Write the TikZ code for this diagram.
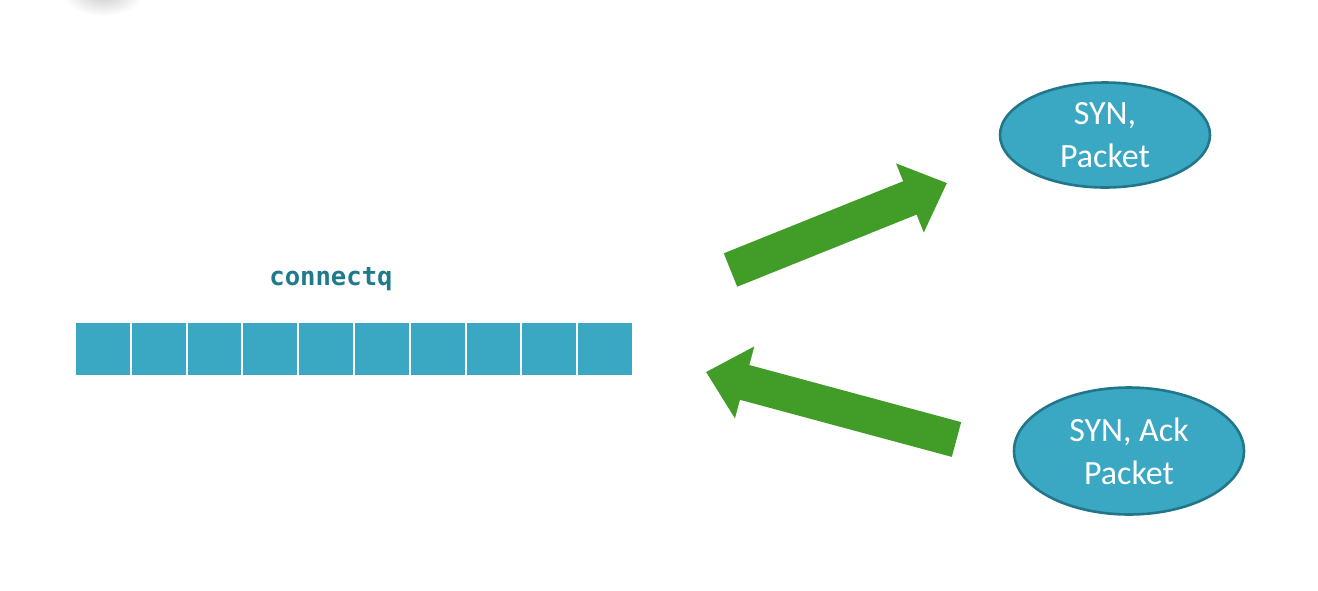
\documentclass[tikz,border=0pt]{standalone}
\usepackage{fontspec}
\setmainfont{Carlito}
\setmonofont{DejaVu Sans Mono}
\usepackage{tikz}
\usetikzlibrary{arrows.meta, shapes.geometric}

\definecolor{qblue}{RGB}{58,168,195}
\definecolor{qedge}{RGB}{34,118,138}
\definecolor{qtext}{RGB}{31,122,140}
\definecolor{pushgreen}{RGB}{65,157,40}

\tikzset{
    packet/.style = {ellipse, draw = qedge, line width = 1.3pt, fill = qblue, text = white,
                     inner sep = 0pt, align = center,
                     font = \fontsize{17}{21.5}\selectfont},
    bigarrow/.style = {draw = pushgreen, line width = 18pt,
                       -{Triangle[length = 20pt, width = 36pt]}},
    cell/.style = {fill = qblue, draw = white, line width = 1pt}
}

\begin{document}
\begin{tikzpicture}[x = 0.5pt, y = -0.5pt]
    \useasboundingbox (0, 0) rectangle (1318, 590);

    % faint slide shadow at the top edge
    \shade [inner color = black!20, outer color = white] (103, -6) ellipse (40 and 22);

    \begin{scope}[xshift = 75*0.5pt, yshift = -322*0.5pt]
        \foreach \i in {0,...,9}
            \draw [cell] (\i*55.8, 0) rectangle ++(55.8, 54);
    \end{scope}
    \node [anchor = base, text = qtext, font = \ttfamily\bfseries\fontsize{12.8}{15}\selectfont]
        (qlabel) at (331, 285) {connectq};

    \node [packet, minimum width = 105pt, minimum height = 52.5pt]
        (syn) at (1105, 135) {SYN,\\Packet};
    \node [packet, minimum width = 115pt, minimum height = 63.5pt]
        (synack) at (1129, 451) {SYN, Ack\\Packet};

    \coordinate (outtail) at (730.5, 270);
    \coordinate (outtip)  at (947, 183);
    \coordinate (intail)  at (956.5, 439.5);
    \coordinate (intip)   at (706, 372);

    \draw [bigarrow] (outtail) -- (outtip);
    \draw [bigarrow] (intail) -- (intip);

\end{tikzpicture}
\end{document}
